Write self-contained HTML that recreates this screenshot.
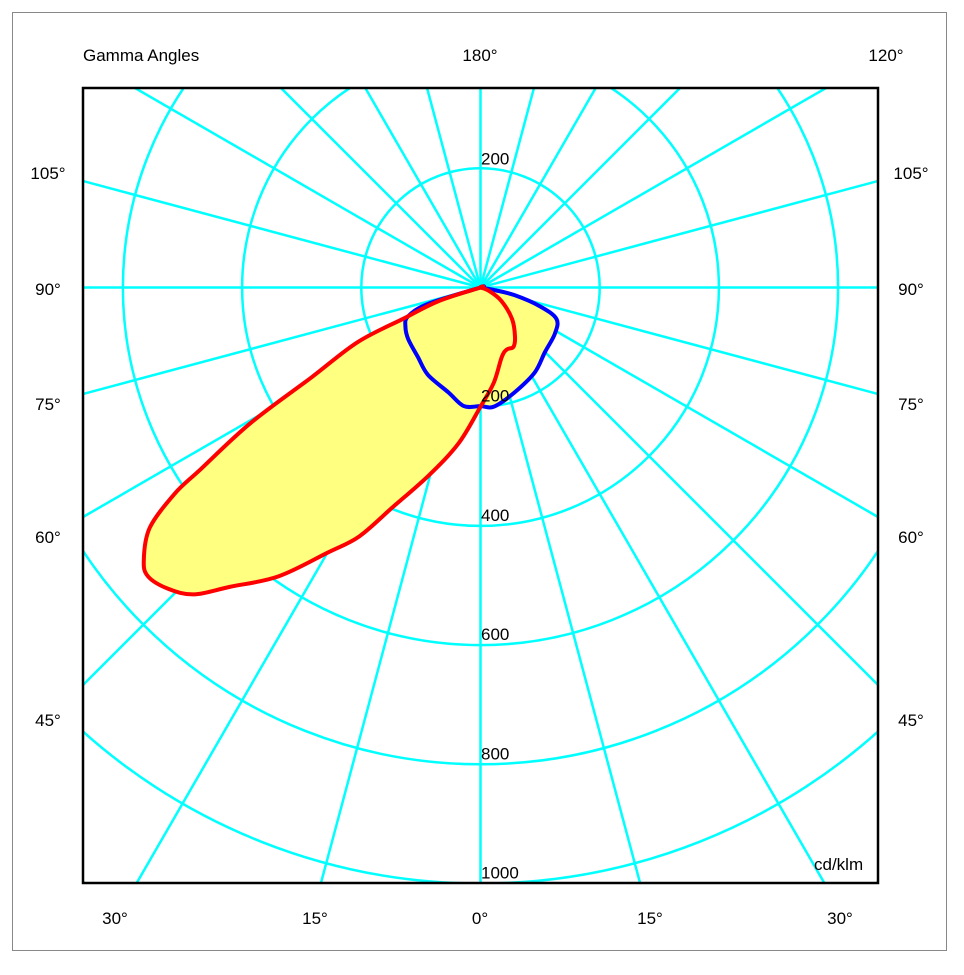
<!DOCTYPE html>
<html><head><meta charset="utf-8"><style>
html,body{margin:0;padding:0;background:#fff;overflow:hidden;width:964px;height:975px;}
svg{display:block;font-family:"Liberation Sans",sans-serif;}
</style></head><body>
<svg id="chart" width="964" height="975">
<rect x="12.5" y="12.5" width="934" height="938" fill="#fff" stroke="#888" stroke-width="1"/>
<defs><clipPath id="clip"><rect x="83" y="88" width="795" height="795"/></clipPath></defs>
<g id="grid" clip-path="url(#clip)"></g>
<g id="curves" clip-path="url(#clip)"></g>
<rect x="83" y="88" width="795" height="795" fill="none" stroke="#000" stroke-width="2.5"/>
<g id="labels" font-size="17" fill="#000">
<text x="83" y="61">Gamma Angles</text>
<text x="480" y="61" text-anchor="middle">180°</text>
<text x="886" y="61" text-anchor="middle">120°</text>
<text x="814" y="870">cd/klm</text>
</g>
</svg>
<script>
const ringValues=[200,400,600,800,1000,1200];
const ringLabels=["200","400","600","800","1000"];
const spokeAngles=[0,15,30,45,60,75,90,105,120,135,150,165,180,195,210,225,240,255,270,285,300,315,330,345];
const leftAngleLabels=["105°","90°","75°","60°","45°"];
const leftAngleY=[173,289,404,537,720];
const bottomAngleLabels=["30°","15°","0°","15°","30°"];
const bottomAngleX=[115,315,480,650,840];
// C0-C180 plane (red): gamma (deg, negative = left) and cd/klm
const redGamma=[-90,-72,-68,-66,-62,-59.5,-57,-56,-54,-51,-49,-46,-43,-40,-35,-30,-26,-22,-15.5,-8,0,8,17,23,29,35,45,57,68,90];
const redValues=[0,74,140,226,321,447,560,619,686,727,739,728,704,656,592,514,465,400,328,264,200,161,122,113,114,101,75,42,16,0];
// C90-C270 plane (blue)
const blueGamma=[-90,-72.7,-68.3,-62.5,-54.5,-42,-31,-17,-8,0,6.6,18,32.6,45,58,67.5,72.5,77.4,79.5,90];
const blueValues=[0,92,131,142,149,157,171,184,201,199,201,185,169,153,147,138,104,58,23,0];

const NS="http://www.w3.org/2000/svg";
const cx=480.5, cy=287.5, k=0.596;
function rr(v){return v*k;}
function px(g,v){return cx+Math.sin(g*Math.PI/180)*rr(v);}
function py(g,v){return cy+Math.cos(g*Math.PI/180)*rr(v);}
const grid=document.getElementById('grid');
ringValues.forEach(v=>{
  const c=document.createElementNS(NS,'circle');
  c.setAttribute('cx',cx);c.setAttribute('cy',cy);c.setAttribute('r',rr(v));
  c.setAttribute('fill','none');c.setAttribute('stroke','#00ffff');c.setAttribute('stroke-width','2.5');
  
  
  grid.appendChild(c);
});
spokeAngles.forEach(a=>{
  const l=document.createElementNS(NS,'line');
  l.setAttribute('x1',cx);l.setAttribute('y1',cy);
  l.setAttribute('x2',px(a,2000));l.setAttribute('y2',py(a,2000));
  l.setAttribute('stroke','#00ffff');l.setAttribute('stroke-width','2.5');
  
  
  grid.appendChild(l);
});
function pathFor(G,V){
  const P=G.map((g,i)=>[px(g,V[i]),py(g,V[i])]);
  const n=P.length;let d='M'+P[0][0].toFixed(1)+','+P[0][1].toFixed(1);
  for(let i=0;i<n;i++){
    const p0=P[(i-1+n)%n],p1=P[i],p2=P[(i+1)%n],p3=P[(i+2)%n];
    const c1=[p1[0]+(p2[0]-p0[0])/6,p1[1]+(p2[1]-p0[1])/6];
    const c2=[p2[0]-(p3[0]-p1[0])/6,p2[1]-(p3[1]-p1[1])/6];
    d+=' C'+c1[0].toFixed(1)+','+c1[1].toFixed(1)+' '+c2[0].toFixed(1)+','+c2[1].toFixed(1)+' '+p2[0].toFixed(1)+','+p2[1].toFixed(1);
  }
  return d+'Z';
}
const curves=document.getElementById('curves');
[[redGamma,redValues],[blueGamma,blueValues]].forEach((s,i)=>{
  const p=document.createElementNS(NS,'path');
  p.setAttribute('d',pathFor(s[0],s[1]));p.setAttribute('fill','#ffff80');p.setAttribute('stroke','none');
  
  
  curves.appendChild(p);
});
[[blueGamma,blueValues,'#0000ff','c90-c270-curve'],[redGamma,redValues,'#ff0000','c0-c180-curve']].forEach(s=>{
  const p=document.createElementNS(NS,'path');
  p.setAttribute('d',pathFor(s[0],s[1]));p.setAttribute('fill','none');p.setAttribute('stroke',s[2]);
  p.setAttribute('stroke-width','4');p.setAttribute('stroke-linejoin','round');
  
  
  curves.appendChild(p);
});
const labels=document.getElementById('labels');
function txt(x,y,s,anchor,name){
  const t=document.createElementNS(NS,'text');
  t.setAttribute('x',x);t.setAttribute('y',y);t.textContent=s;
  if(anchor)t.setAttribute('text-anchor',anchor);
  
  
  labels.appendChild(t);
}
ringLabels.forEach((s,i)=>txt(481,cy+rr(ringValues[i])-5,s,null,'ring-label-'+s));
txt(481,cy-rr(200)-4,"200",null,'ring-label-200-top');
leftAngleLabels.forEach((s,i)=>{txt(48,leftAngleY[i]+6,s,'middle','left-angle-'+i);txt(911,leftAngleY[i]+6,s,'middle','right-angle-'+i);});
bottomAngleLabels.forEach((s,i)=>txt(bottomAngleX[i],924,s,'middle','bottom-angle-'+i));
</script>
</body></html>
